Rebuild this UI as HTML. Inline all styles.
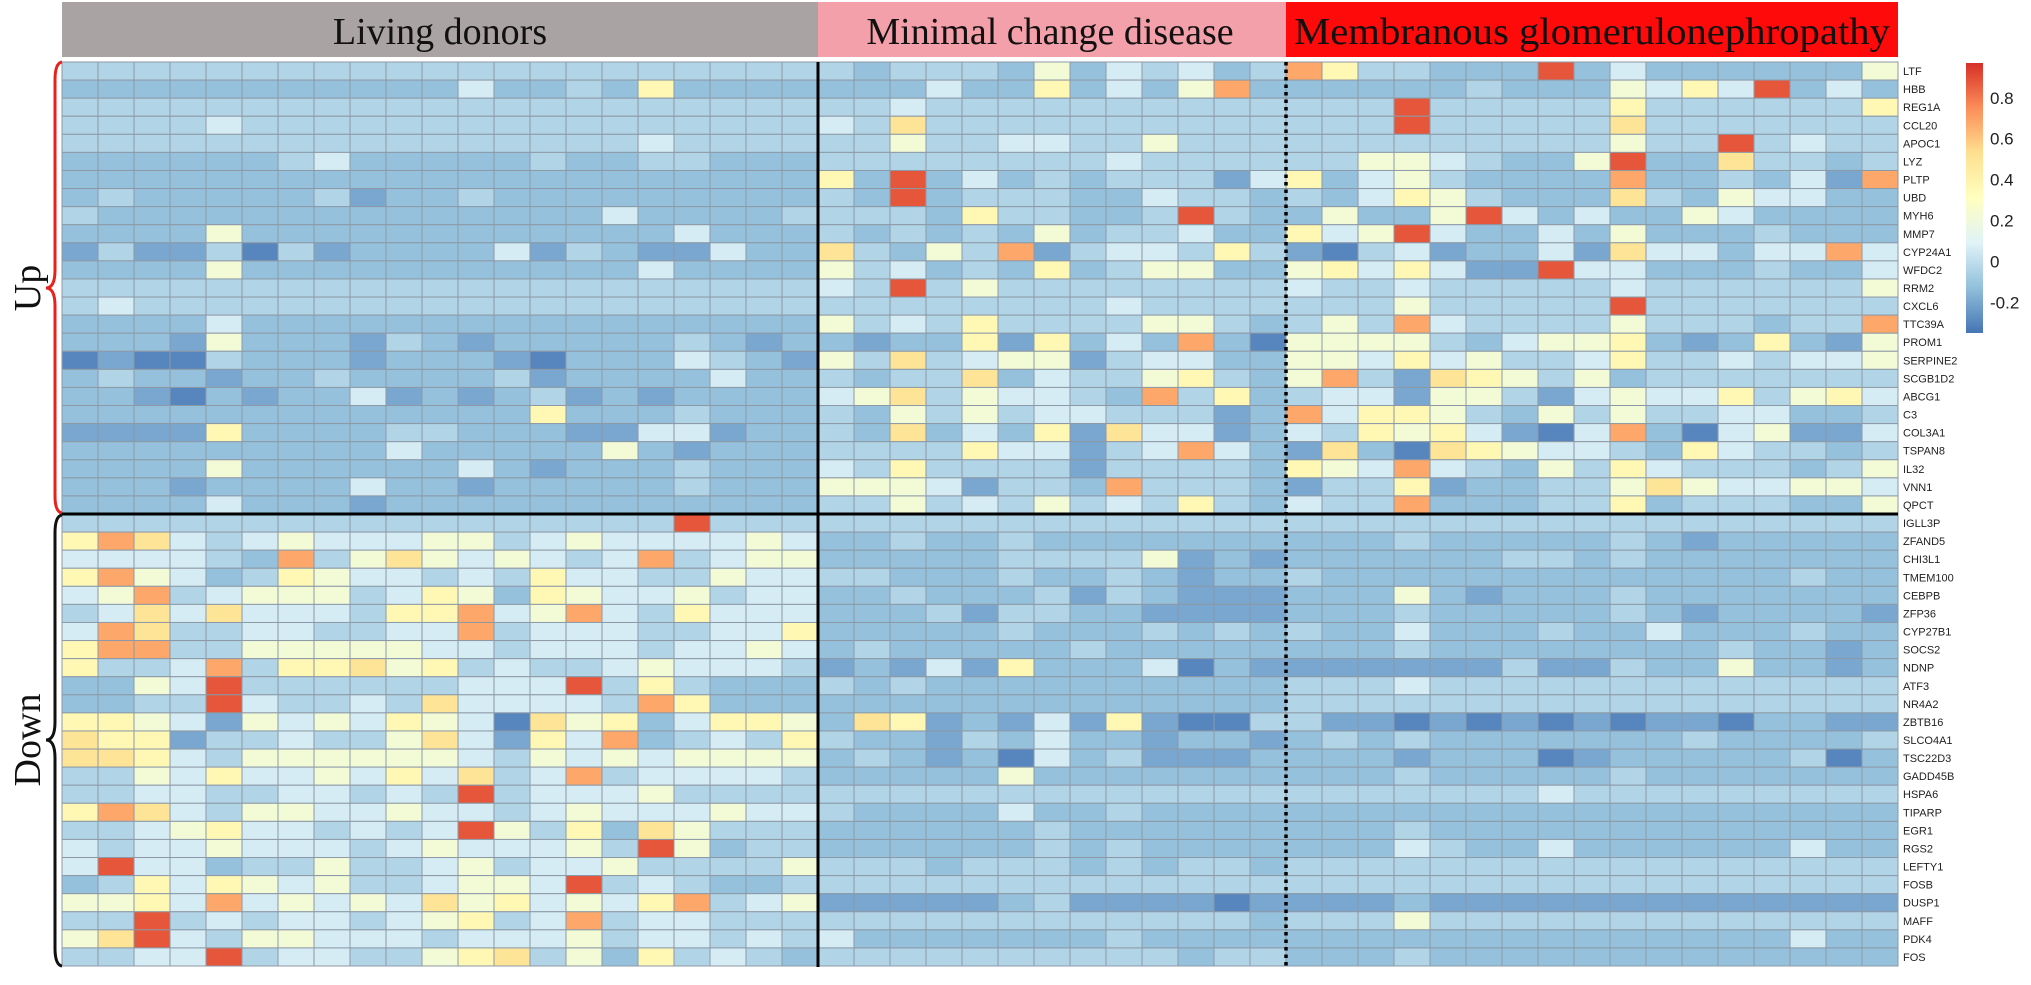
<!DOCTYPE html>
<html><head><meta charset="utf-8"><style>
html,body{margin:0;padding:0;background:#fff;}
svg{display:block;}
</style></head><body>
<svg id="chart" width="2031" height="985" viewBox="0 0 2031 985" xmlns="http://www.w3.org/2000/svg">
  <rect x="62" y="2" width="756" height="55" fill="#aaa3a3"/>
  <rect x="818" y="2" width="468" height="55" fill="#f4a0aa"/>
  <rect x="1286" y="2" width="612" height="55" fill="#fe0a0a"/>
  <text x="440" y="44" text-anchor="middle" font-family="Liberation Serif, serif" font-size="38" fill="#111">Living donors</text>
  <text x="1050" y="44" text-anchor="middle" font-family="Liberation Serif, serif" font-size="38" fill="#111">Minimal change disease</text>
  <text x="1592" y="44" text-anchor="middle" font-family="Liberation Serif, serif" font-size="38" fill="#111" textLength="596" lengthAdjust="spacingAndGlyphs">Membranous glomerulonephropathy</text>
  <g id="cells"></g>
  <g id="labels"></g>
  <line x1="62" y1="514" x2="1898" y2="514" stroke="#000" stroke-width="3"/>
  <line x1="818" y1="62" x2="818" y2="967" stroke="#000" stroke-width="3"/>
  <line x1="1286" y1="62" x2="1286" y2="967" stroke="#000" stroke-width="3.5" stroke-dasharray="3.5,4"/>
  <path d="M62,62 Q55,63 55,80 L55,270 Q55,288 46,288 Q55,288 55,306 L55,496 Q55,512 62,513" fill="none" stroke="#e8211d" stroke-width="3"/>
  <path d="M62,515 Q55,516 55,533 L55,722 Q55,740 46,740 Q55,740 55,758 L55,948 Q55,965 62,966" fill="none" stroke="#111" stroke-width="3"/>
  <text transform="translate(40,288) rotate(-90)" text-anchor="middle" font-family="Liberation Serif, serif" font-size="38" fill="#111">Up</text>
  <text transform="translate(40,740) rotate(-90)" text-anchor="middle" font-family="Liberation Serif, serif" font-size="38" fill="#111">Down</text>
  <defs><linearGradient id="cb" x1="0" y1="1" x2="0" y2="0">
    <stop offset="0" stop-color="#4575b4"/><stop offset="0.1667" stop-color="#91bfdb"/><stop offset="0.3333" stop-color="#e0f3f8"/><stop offset="0.5" stop-color="#ffffbf"/><stop offset="0.6667" stop-color="#fee090"/><stop offset="0.8333" stop-color="#fc8d59"/><stop offset="1" stop-color="#d73027"/>
  </linearGradient></defs>
  <rect x="1966" y="63" width="17" height="270" fill="url(#cb)"/>
  <g id="cbticks"></g>
</svg>
<script>
const genes = ["LTF","HBB","REG1A","CCL20","APOC1","LYZ","PLTP","UBD","MYH6","MMP7","CYP24A1","WFDC2","RRM2","CXCL6","TTC39A","PROM1","SERPINE2","SCGB1D2","ABCG1","C3","COL3A1","TSPAN8","IL32","VNN1","QPCT",
"IGLL3P","ZFAND5","CHI3L1","TMEM100","CEBPB","ZFP36","CYP27B1","SOCS2","NDNP","ATF3","NR4A2","ZBTB16","SLCO4A1","TSC22D3","GADD45B","HSPA6","TIPARP","EGR1","RGS2","LEFTY1","FOSB","DUSP1","MAFF","PDK4","FOS"];
const levelValues = [-0.3,-0.2,-0.12,-0.04,0.06,0.22,0.36,0.5,0.68,0.88];
const colorbarTicks = [0.8,0.6,0.4,0.2,0,-0.2];
const ldValues = ["333333333333333333333","222222222224223262222","333333333333333333333","333343333333333333333","333333333333333343333","222222342222232233222","222222222222222222222","232222231223222222222","322222222222222422223","222252222222222224222","131130312222413211422","222252222222222242222","333333333333333333333","343333333333333333333","222242222222222222222","222152221321222223212","010032221222102224321","232212232222312222422","221021224121231212222","222222222222262223222","111162222332221144122","222222222422222521222","222252222224212223222","222122224221222223222","222242221222222222222",
"333333333333333339333","687434544455345444454","444432835754543483455","685423654434364433544","458345553465265445344","347474443668458436444","487334433448344433446","688335555544344434454","633483667563433454443","225493333334449363222","223394334374444386222","665415454654075624665","766133433574164823436","776435555554354545555","335464454647348344443","334433443439344453333","687435544544345444544","334564434349536275333","434454443454445395233","494423353345344533335","236465453345549343223","556484545475645468345","339343443456348344333","579435544434445344343","334493443356735263432"];
const mcdValues = ["3233325243423","2224226242582","3343333333333","4373333333333","3353344335333","3333333343333","6292423233314","3292333224332","3332633223932","3232325233422","7325381344363","5342326235522","4393533333333","3333333343333","5343633335532","2122616242820","5373455134422","3233724335632","4573544328362","3253534433312","3272426174412","3333644134842","4363333133332","5554133283332","3353435343632",
"3333333333333","2232232222222","2222233335121","3322232232122","2232223132111","2223133221111","2222232223232","2322222322222","1214162224021","3232222222222","2222222222222","2761214161003","3221324221221","2321204231112","2222252222222","3333333333333","3222242232222","2222223222222","2222223232222","3332333232332","3333333333333","1111123111101","3333333333332","4222222232222","3333333333233"];
const mgnValues = ["86332229242222225","22222322254649242","33393333363333336","33393333373333333","33333333353393433","33554322592273323","62453222282232418","32465322273254422","25225942422542222","64594224252223222","10341224174424484","56464119442223224","43343333343333335","33353333393333333","35384333353332338","55553245562126215","55464533463343445","58317653523333333","34415531454463564","84665325353344223","43656410482045114","17207654432643323","65484325364333235","13361223357544554","43382223362333225",
"33333333333333333","22232222232122222","22222233232222222","32222222222222322","22252122232222222","22232222232122221","32242223224222322","22232222222232212","11111131132252212","33343333333333333","33333333333333333","31101010101102211","23232222222322223","22212220122222302","22232222232222222","33333334333333333","22222222222222222","22232222222222222","22243224222222422","33333333333333333","33333333333333333","11121111111111111","33353333333333333","22222222222222422","22232222222222222"];

const NS = "http://www.w3.org/2000/svg";
const X0 = 62, CW = 36, Y0 = 62, RH = 904/50;
const VMIN = -0.35, VMAX = 0.97;
const stops = [[0,[69,117,180]],[1/6,[145,191,219]],[2/6,[224,243,248]],[3/6,[255,255,191]],[4/6,[254,224,144]],[5/6,[252,141,89]],[1,[215,48,39]]];
function colorOf(v){
  let t = Math.max(0, Math.min(1, (v - VMIN)/(VMAX - VMIN)));
  for (let i=1;i<stops.length;i++){
    if (t <= stops[i][0]) {
      const a = stops[i-1], b = stops[i], f = (t - a[0])/(b[0]-a[0]);
      const c = a[1].map((x,k)=>Math.round(x + (b[1][k]-x)*f));
      return "rgb("+c.join(",")+")";
    }
  }
  return "rgb(215,48,39)";
}
function xScale(col){ return X0 + col*CW; }
function yScale(row){ return Y0 + row*RH; }
function cbY(v){ return 333 - (v - VMIN)/(VMAX - VMIN)*270; }

const cells = document.getElementById("cells");
const groups = [ldValues, mcdValues, mgnValues];
let colOffset = 0;
groups.forEach(function(g){
  const ncol = g[0].length;
  g.forEach(function(rowStr, r){
    for (let c=0;c<rowStr.length;c++){
      const v = levelValues[+rowStr[c]];
      const rect = document.createElementNS(NS, "rect");
      rect.setAttribute("x", xScale(colOffset + c));
      rect.setAttribute("y", yScale(r));
      rect.setAttribute("width", CW);
      rect.setAttribute("height", RH);
      rect.setAttribute("fill", colorOf(v));
      rect.setAttribute("stroke", "#8d99a6");
      rect.setAttribute("stroke-width", "1");
      
      
      cells.appendChild(rect);
    }
  });
  colOffset += ncol;
});

const labels = document.getElementById("labels");
genes.forEach(function(gname, r){
  const t = document.createElementNS(NS, "text");
  t.setAttribute("x", 1903);
  t.setAttribute("y", yScale(r) + RH/2 + 4);
  t.setAttribute("font-family", "Liberation Sans, sans-serif");
  t.setAttribute("font-size", "11");
  t.setAttribute("fill", "#222");
  t.textContent = gname;
  
  
  labels.appendChild(t);
});

const cbt = document.getElementById("cbticks");
colorbarTicks.forEach(function(v){
  const t = document.createElementNS(NS, "text");
  t.setAttribute("x", 1990);
  t.setAttribute("y", cbY(v) + 6);
  t.setAttribute("font-family", "Liberation Sans, sans-serif");
  t.setAttribute("font-size", "17");
  t.setAttribute("fill", "#222");
  t.textContent = String(v);
  
  
  cbt.appendChild(t);
});
</script>
</body></html>
